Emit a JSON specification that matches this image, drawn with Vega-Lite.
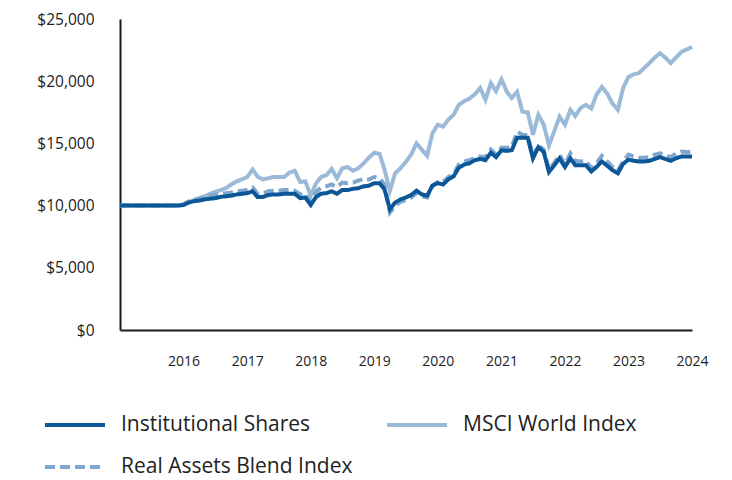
{
  "$schema": "https://vega.github.io/schema/vega-lite/v6.json",
  "width": 572,
  "height": 311,
  "autosize": {"type": "none"},
  "padding": {"left": 120, "top": 19, "right": 40, "bottom": 150},
  "background": "white",
  "config": {
    "view": {"stroke": null},
    "font": "Open Sans"
  },
  "data": {"values": [
    {"date":"2015/01/01","Institutional Shares":10000,"MSCI World Index":10000,"Real Assets Blend Index":10000},
    {"date":"2015/02/01","Institutional Shares":10000,"MSCI World Index":10000,"Real Assets Blend Index":10000},
    {"date":"2015/03/01","Institutional Shares":10000,"MSCI World Index":10000,"Real Assets Blend Index":10000},
    {"date":"2015/04/01","Institutional Shares":10000,"MSCI World Index":10000,"Real Assets Blend Index":10000},
    {"date":"2015/05/01","Institutional Shares":10000,"MSCI World Index":10000,"Real Assets Blend Index":10000},
    {"date":"2015/06/01","Institutional Shares":10000,"MSCI World Index":10000,"Real Assets Blend Index":10000},
    {"date":"2015/07/01","Institutional Shares":10000,"MSCI World Index":10000,"Real Assets Blend Index":10000},
    {"date":"2015/08/01","Institutional Shares":10000,"MSCI World Index":10000,"Real Assets Blend Index":10000},
    {"date":"2015/09/01","Institutional Shares":10000,"MSCI World Index":10000,"Real Assets Blend Index":10000},
    {"date":"2015/10/01","Institutional Shares":10000,"MSCI World Index":10000,"Real Assets Blend Index":10000},
    {"date":"2015/11/01","Institutional Shares":10000,"MSCI World Index":10000,"Real Assets Blend Index":10000},
    {"date":"2015/12/01","Institutional Shares":10000,"MSCI World Index":10000,"Real Assets Blend Index":10000},
    {"date":"2016/01/01","Institutional Shares":10050,"MSCI World Index":10100,"Real Assets Blend Index":10100},
    {"date":"2016/02/01","Institutional Shares":10250,"MSCI World Index":10300,"Real Assets Blend Index":10350},
    {"date":"2016/03/01","Institutional Shares":10350,"MSCI World Index":10450,"Real Assets Blend Index":10450},
    {"date":"2016/04/01","Institutional Shares":10400,"MSCI World Index":10600,"Real Assets Blend Index":10550},
    {"date":"2016/05/01","Institutional Shares":10500,"MSCI World Index":10750,"Real Assets Blend Index":10700},
    {"date":"2016/06/01","Institutional Shares":10550,"MSCI World Index":10950,"Real Assets Blend Index":10750},
    {"date":"2016/07/01","Institutional Shares":10600,"MSCI World Index":11100,"Real Assets Blend Index":10850},
    {"date":"2016/08/01","Institutional Shares":10700,"MSCI World Index":11250,"Real Assets Blend Index":10950},
    {"date":"2016/09/01","Institutional Shares":10750,"MSCI World Index":11400,"Real Assets Blend Index":11000},
    {"date":"2016/10/01","Institutional Shares":10800,"MSCI World Index":11700,"Real Assets Blend Index":11050},
    {"date":"2016/11/01","Institutional Shares":10900,"MSCI World Index":11950,"Real Assets Blend Index":11150},
    {"date":"2016/12/01","Institutional Shares":10950,"MSCI World Index":12100,"Real Assets Blend Index":11200},
    {"date":"2017/01/01","Institutional Shares":11000,"MSCI World Index":12300,"Real Assets Blend Index":11250},
    {"date":"2017/02/01","Institutional Shares":11150,"MSCI World Index":12900,"Real Assets Blend Index":11450},
    {"date":"2017/03/01","Institutional Shares":10700,"MSCI World Index":12350,"Real Assets Blend Index":10950},
    {"date":"2017/04/01","Institutional Shares":10700,"MSCI World Index":12100,"Real Assets Blend Index":10950},
    {"date":"2017/05/01","Institutional Shares":10850,"MSCI World Index":12200,"Real Assets Blend Index":11150},
    {"date":"2017/06/01","Institutional Shares":10900,"MSCI World Index":12300,"Real Assets Blend Index":11200},
    {"date":"2017/07/01","Institutional Shares":10900,"MSCI World Index":12300,"Real Assets Blend Index":11200},
    {"date":"2017/08/01","Institutional Shares":10950,"MSCI World Index":12300,"Real Assets Blend Index":11250},
    {"date":"2017/09/01","Institutional Shares":10950,"MSCI World Index":12650,"Real Assets Blend Index":11250},
    {"date":"2017/10/01","Institutional Shares":10950,"MSCI World Index":12800,"Real Assets Blend Index":11200},
    {"date":"2017/11/01","Institutional Shares":10600,"MSCI World Index":11900,"Real Assets Blend Index":10900},
    {"date":"2017/12/01","Institutional Shares":10650,"MSCI World Index":11950,"Real Assets Blend Index":10950},
    {"date":"2018/01/01","Institutional Shares":10050,"MSCI World Index":10800,"Real Assets Blend Index":10300},
    {"date":"2018/02/01","Institutional Shares":10700,"MSCI World Index":11800,"Real Assets Blend Index":11100},
    {"date":"2018/03/01","Institutional Shares":10950,"MSCI World Index":12300,"Real Assets Blend Index":11450},
    {"date":"2018/04/01","Institutional Shares":11000,"MSCI World Index":12450,"Real Assets Blend Index":11550},
    {"date":"2018/05/01","Institutional Shares":11150,"MSCI World Index":12950,"Real Assets Blend Index":11700},
    {"date":"2018/06/01","Institutional Shares":10950,"MSCI World Index":12200,"Real Assets Blend Index":11500},
    {"date":"2018/07/01","Institutional Shares":11250,"MSCI World Index":13000,"Real Assets Blend Index":11850},
    {"date":"2018/08/01","Institutional Shares":11250,"MSCI World Index":13100,"Real Assets Blend Index":11800},
    {"date":"2018/09/01","Institutional Shares":11350,"MSCI World Index":12800,"Real Assets Blend Index":11850},
    {"date":"2018/10/01","Institutional Shares":11400,"MSCI World Index":13000,"Real Assets Blend Index":12000},
    {"date":"2018/11/01","Institutional Shares":11550,"MSCI World Index":13400,"Real Assets Blend Index":12150},
    {"date":"2018/12/01","Institutional Shares":11600,"MSCI World Index":13850,"Real Assets Blend Index":12100},
    {"date":"2019/01/01","Institutional Shares":11800,"MSCI World Index":14250,"Real Assets Blend Index":12300},
    {"date":"2019/02/01","Institutional Shares":11800,"MSCI World Index":14150,"Real Assets Blend Index":12200},
    {"date":"2019/03/01","Institutional Shares":11300,"MSCI World Index":12900,"Real Assets Blend Index":11700},
    {"date":"2019/04/01","Institutional Shares":9700,"MSCI World Index":11200,"Real Assets Blend Index":9450},
    {"date":"2019/05/01","Institutional Shares":10250,"MSCI World Index":12600,"Real Assets Blend Index":10000},
    {"date":"2019/06/01","Institutional Shares":10500,"MSCI World Index":13000,"Real Assets Blend Index":10300},
    {"date":"2019/07/01","Institutional Shares":10650,"MSCI World Index":13500,"Real Assets Blend Index":10450},
    {"date":"2019/08/01","Institutional Shares":10850,"MSCI World Index":14100,"Real Assets Blend Index":10650},
    {"date":"2019/09/01","Institutional Shares":11200,"MSCI World Index":15000,"Real Assets Blend Index":11000},
    {"date":"2019/10/01","Institutional Shares":10900,"MSCI World Index":14500,"Real Assets Blend Index":10750},
    {"date":"2019/11/01","Institutional Shares":10800,"MSCI World Index":14000,"Real Assets Blend Index":10650},
    {"date":"2019/12/01","Institutional Shares":11600,"MSCI World Index":15800,"Real Assets Blend Index":11600},
    {"date":"2020/01/01","Institutional Shares":11800,"MSCI World Index":16500,"Real Assets Blend Index":11900},
    {"date":"2020/02/01","Institutional Shares":11700,"MSCI World Index":16350,"Real Assets Blend Index":11900},
    {"date":"2020/03/01","Institutional Shares":12100,"MSCI World Index":16900,"Real Assets Blend Index":12300},
    {"date":"2020/04/01","Institutional Shares":12350,"MSCI World Index":17300,"Real Assets Blend Index":12550},
    {"date":"2020/05/01","Institutional Shares":13050,"MSCI World Index":18100,"Real Assets Blend Index":13300},
    {"date":"2020/06/01","Institutional Shares":13300,"MSCI World Index":18400,"Real Assets Blend Index":13550},
    {"date":"2020/07/01","Institutional Shares":13400,"MSCI World Index":18600,"Real Assets Blend Index":13650},
    {"date":"2020/08/01","Institutional Shares":13650,"MSCI World Index":18950,"Real Assets Blend Index":13850},
    {"date":"2020/09/01","Institutional Shares":13750,"MSCI World Index":19450,"Real Assets Blend Index":13950},
    {"date":"2020/10/01","Institutional Shares":13650,"MSCI World Index":18500,"Real Assets Blend Index":13900},
    {"date":"2020/11/01","Institutional Shares":14250,"MSCI World Index":19850,"Real Assets Blend Index":14500},
    {"date":"2020/12/01","Institutional Shares":13900,"MSCI World Index":19200,"Real Assets Blend Index":14100},
    {"date":"2021/01/01","Institutional Shares":14450,"MSCI World Index":20150,"Real Assets Blend Index":14650},
    {"date":"2021/02/01","Institutional Shares":14400,"MSCI World Index":19150,"Real Assets Blend Index":14650},
    {"date":"2021/03/01","Institutional Shares":14450,"MSCI World Index":18650,"Real Assets Blend Index":14700},
    {"date":"2021/04/01","Institutional Shares":15450,"MSCI World Index":19150,"Real Assets Blend Index":15950},
    {"date":"2021/05/01","Institutional Shares":15450,"MSCI World Index":17550,"Real Assets Blend Index":15700},
    {"date":"2021/06/01","Institutional Shares":15450,"MSCI World Index":17500,"Real Assets Blend Index":15650},
    {"date":"2021/07/01","Institutional Shares":13800,"MSCI World Index":15700,"Real Assets Blend Index":14000},
    {"date":"2021/08/01","Institutional Shares":14700,"MSCI World Index":17300,"Real Assets Blend Index":14850},
    {"date":"2021/09/01","Institutional Shares":14300,"MSCI World Index":16500,"Real Assets Blend Index":14500},
    {"date":"2021/10/01","Institutional Shares":12700,"MSCI World Index":14850,"Real Assets Blend Index":12900},
    {"date":"2021/11/01","Institutional Shares":13250,"MSCI World Index":16000,"Real Assets Blend Index":13450},
    {"date":"2021/12/01","Institutional Shares":13800,"MSCI World Index":17150,"Real Assets Blend Index":14100},
    {"date":"2022/01/01","Institutional Shares":13100,"MSCI World Index":16500,"Real Assets Blend Index":13300},
    {"date":"2022/02/01","Institutional Shares":13800,"MSCI World Index":17700,"Real Assets Blend Index":14200},
    {"date":"2022/03/01","Institutional Shares":13250,"MSCI World Index":17200,"Real Assets Blend Index":13600},
    {"date":"2022/04/01","Institutional Shares":13250,"MSCI World Index":17850,"Real Assets Blend Index":13550},
    {"date":"2022/05/01","Institutional Shares":13250,"MSCI World Index":18100,"Real Assets Blend Index":13600},
    {"date":"2022/06/01","Institutional Shares":12750,"MSCI World Index":17800,"Real Assets Blend Index":13000},
    {"date":"2022/07/01","Institutional Shares":13100,"MSCI World Index":18900,"Real Assets Blend Index":13400},
    {"date":"2022/08/01","Institutional Shares":13550,"MSCI World Index":19550,"Real Assets Blend Index":14000},
    {"date":"2022/09/01","Institutional Shares":13200,"MSCI World Index":19000,"Real Assets Blend Index":13550},
    {"date":"2022/10/01","Institutional Shares":12850,"MSCI World Index":18200,"Real Assets Blend Index":13100},
    {"date":"2022/11/01","Institutional Shares":12600,"MSCI World Index":17700,"Real Assets Blend Index":12800},
    {"date":"2022/12/01","Institutional Shares":13350,"MSCI World Index":19450,"Real Assets Blend Index":13550},
    {"date":"2023/01/01","Institutional Shares":13700,"MSCI World Index":20350,"Real Assets Blend Index":14100},
    {"date":"2023/02/01","Institutional Shares":13600,"MSCI World Index":20550,"Real Assets Blend Index":13950},
    {"date":"2023/03/01","Institutional Shares":13550,"MSCI World Index":20650,"Real Assets Blend Index":13850},
    {"date":"2023/04/01","Institutional Shares":13550,"MSCI World Index":21050,"Real Assets Blend Index":13850},
    {"date":"2023/05/01","Institutional Shares":13600,"MSCI World Index":21450,"Real Assets Blend Index":13900},
    {"date":"2023/06/01","Institutional Shares":13750,"MSCI World Index":21900,"Real Assets Blend Index":14100},
    {"date":"2023/07/01","Institutional Shares":13900,"MSCI World Index":22250,"Real Assets Blend Index":14200},
    {"date":"2023/08/01","Institutional Shares":13750,"MSCI World Index":21900,"Real Assets Blend Index":14000},
    {"date":"2023/09/01","Institutional Shares":13600,"MSCI World Index":21450,"Real Assets Blend Index":13900},
    {"date":"2023/10/01","Institutional Shares":13800,"MSCI World Index":21900,"Real Assets Blend Index":14200},
    {"date":"2023/11/01","Institutional Shares":13950,"MSCI World Index":22350,"Real Assets Blend Index":14350},
    {"date":"2023/12/01","Institutional Shares":13950,"MSCI World Index":22550,"Real Assets Blend Index":14300},
    {"date":"2024/01/01","Institutional Shares":13950,"MSCI World Index":22750,"Real Assets Blend Index":14300}
  ]},
  "transform": [
    {"fold": ["MSCI World Index", "Real Assets Blend Index", "Institutional Shares"], "as": ["series", "value"]}
  ],
  "mark": {"type": "line", "strokeWidth": 4, "strokeJoin": "miter", "strokeCap": "butt", "clip": false},
  "encoding": {
    "x": {
      "field": "date", "type": "temporal",
      "scale": {"domain": [{"year": 2015, "month": 1, "date": 1}, {"year": 2024, "month": 1, "date": 1}], "nice": false},
      "axis": {
        "title": null, "format": "%Y", "grid": false, "ticks": false,
        "values": [{"year": 2016, "month": 1, "date": 1}, {"year": 2017, "month": 1, "date": 1}, {"year": 2018, "month": 1, "date": 1}, {"year": 2019, "month": 1, "date": 1}, {"year": 2020, "month": 1, "date": 1}, {"year": 2021, "month": 1, "date": 1}, {"year": 2022, "month": 1, "date": 1}, {"year": 2023, "month": 1, "date": 1}, {"year": 2024, "month": 1, "date": 1}],
        "domainColor": "#1a1a1a", "domainWidth": 2,
        "labelFontSize": 14, "labelColor": "#222222", "labelPadding": 24, "labelFlush": false
      }
    },
    "y": {
      "field": "value", "type": "quantitative",
      "scale": {"domain": [0, 25000], "nice": false},
      "axis": {
        "title": null, "format": "$,.0f", "grid": false, "ticks": false,
        "values": [0, 5000, 10000, 15000, 20000, 25000],
        "domainColor": "#1a1a1a", "domainWidth": 2,
        "labelFontSize": 15.5, "labelColor": "#222222", "labelPadding": 26
      }
    },
    "color": {
      "field": "series", "type": "nominal",
      "scale": {"domain": ["Institutional Shares", "Real Assets Blend Index", "MSCI World Index"], "range": ["#0b5797", "#7ea6cf", "#9bbad8"]},
      "legend": {
        "title": null, "orient": "none", "legendX": -77, "legendY": 374, "columns": 2,
        "symbolType": "stroke", "symbolSize": 3600, "symbolStrokeWidth": 4,
        "labelFontSize": 21, "labelColor": "#222222", "labelOffset": 14,
        "columnPadding": 26, "rowPadding": -18, "labelLimit": 400
      }
    },
    "strokeDash": {
      "field": "series", "type": "nominal",
      "scale": {"domain": ["Institutional Shares", "Real Assets Blend Index", "MSCI World Index"], "range": [[1, 0], [10, 5], [1, 0]]},
      "legend": {
        "title": null, "orient": "none", "legendX": -77, "legendY": 374, "columns": 2,
        "symbolType": "stroke", "symbolSize": 3600, "symbolStrokeWidth": 4,
        "labelFontSize": 21, "labelColor": "#222222", "labelOffset": 14,
        "columnPadding": 26, "rowPadding": -18, "labelLimit": 400
      }
    }
  }
}
